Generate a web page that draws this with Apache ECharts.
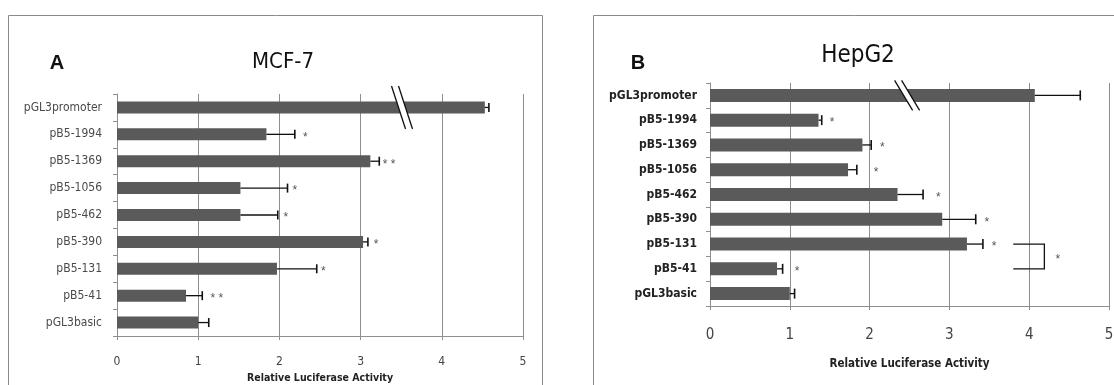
<!DOCTYPE html>
<html>
<head>
<meta charset="utf-8">
<script src="https://cdn.jsdelivr.net/npm/echarts@6/dist/echarts.min.js"></script>
<style>
html,body{margin:0;padding:0;background:#fff;}
#c{width:1114px;height:385px;}
</style>
</head>
<body>
<div id="c"></div>
<script>
// ---------- data ----------
var categories = ['pGL3promoter','pB5-1994','pB5-1369','pB5-1056','pB5-462','pB5-390','pB5-131','pB5-41','pGL3basic'];
var xTicks = [0, 1, 2, 3, 4, 5];

// Panel A: MCF-7
var mcfValues = [4.53, 1.84, 3.12, 1.52, 1.52, 3.03, 1.97, 0.85, 1.00];
var mcfErrTop = [4.58, 2.19, 3.23, 2.10, 1.98, 3.09, 2.46, 1.05, 1.13];
var mcfStars  = ['', '*', '**', '*', '*', '*', '*', '**', ''];
var mcfStarX  = [null, 2.32, 3.35, 2.19, 2.08, 3.19, 2.54, 1.23, null];
var mcfBreak  = [3.51];

// Panel B: HepG2
var hepValues = [4.07, 1.36, 1.91, 1.73, 2.35, 2.91, 3.22, 0.84, 1.00];
var hepErrTop = [4.64, 1.40, 2.02, 1.84, 2.67, 3.33, 3.42, 0.91, 1.06];
var hepStars  = ['', '*', '*', '*', '*', '*', '*', '*', ''];
var hepStarX  = [null, 1.53, 2.16, 2.08, 2.86, 3.47, 3.56, 1.09, null];
var hepBreak  = [2.47];
// bracket between pB5-131 and pB5-41
var hepBracketX = [3.80, 4.19];
var hepBracketRows = [6, 7];
var hepBracketStarX = [4.36];

// ---------- styles ----------
var BAR = '#5a5a5a';
var GRID = '#8e8e8e';
var NARROW = '"DejaVu Sans Condensed","Liberation Sans",sans-serif';

function errSeries(xi, yi, vals, tops, stars, starX, cap) {
  return {
    type: 'custom', xAxisIndex: xi, yAxisIndex: yi, z: 5,
    encode: {x: [1, 2], y: 0},
    data: vals.map(function (v, i) { return [i, v, tops[i]]; }),
    renderItem: function (params, api) {
      var i = api.value(0);
      var a = api.coord([api.value(1), i]);
      var b = api.coord([api.value(2), i]);
      var ch = [
        {type: 'line', shape: {x1: a[0], y1: a[1], x2: b[0], y2: b[1]}, style: {stroke: '#111', lineWidth: 1.3}},
        {type: 'line', shape: {x1: b[0], y1: b[1] - cap / 2, x2: b[0], y2: b[1] + cap / 2}, style: {stroke: '#111', lineWidth: 1.6}}
      ];
      var idx = params.dataIndex;
      if (stars[idx]) {
        var s = api.coord([starX[idx], i]);
        ch.push({type: 'text', x: s[0], y: s[1] + 3,
          style: {text: stars[idx].split('').join(' '), fill: '#555', font: '12px "Liberation Sans"', align: 'center', verticalAlign: 'middle'}});
      }
      return {type: 'group', children: ch};
    }
  };
}

function breakSeries(xi, yi, bval, h, s, g) {
  return {
    type: 'custom', xAxisIndex: xi, yAxisIndex: yi, z: 6,
    encode: {x: 0, y: 1},
    data: bval.map(function (v) { return [v, 0]; }),
    renderItem: function (params, api) {
      var c = api.coord([api.value(0), api.value(1)]);
      var cx = c[0], cy = c[1];
      return {type: 'group', children: [
        {type: 'polygon', shape: {points: [[cx - s - g, cy - h], [cx - s + g, cy - h], [cx + s + g, cy + h], [cx + s - g, cy + h]]},
          style: {fill: '#fff'}},
        {type: 'line', shape: {x1: cx - s - g, y1: cy - h, x2: cx + s - g, y2: cy + h}, style: {stroke: '#111', lineWidth: 1.3}},
        {type: 'line', shape: {x1: cx - s + g, y1: cy - h, x2: cx + s + g, y2: cy + h}, style: {stroke: '#111', lineWidth: 1.3}}
      ]};
    }
  };
}

function yAxisCfg(gi, font, weight, color, margin) {
  return {
    type: 'category', gridIndex: gi, data: categories, inverse: true,
    axisLine: {lineStyle: {color: GRID}},
    axisTick: {show: true, length: 4, lineStyle: {color: GRID}},
    axisLabel: {fontFamily: NARROW, fontSize: font, fontWeight: weight, color: color, margin: margin},
    splitLine: {show: false}
  };
}

function xAxisCfg(gi, font, margin, gap, nameFont) {
  return {
    type: 'value', gridIndex: gi, min: xTicks[0], max: xTicks[xTicks.length - 1], interval: 1,
    axisLine: {show: true, lineStyle: {color: GRID}},
    axisTick: {show: true, length: 4, lineStyle: {color: GRID}},
    axisLabel: {fontFamily: NARROW, fontSize: font, color: '#444', margin: margin},
    splitLine: {show: true, lineStyle: {color: GRID, width: 1}},
    name: 'Relative Luciferase Activity', nameLocation: 'middle', nameGap: gap,
    nameTextStyle: {fontFamily: NARROW, fontWeight: 'bold', fontSize: nameFont, color: '#222'}
  };
}

var chart = echarts.init(document.getElementById('c'), null, {renderer: 'canvas'});
chart.setOption({
  animation: false,
  backgroundColor: '#fff',
  grid: [
    {left: 117, top: 94, width: 406, height: 242, containLabel: false, outerBoundsMode: 'none'},
    {left: 710, top: 83, width: 399, height: 223, containLabel: false, outerBoundsMode: 'none'}
  ],
  xAxis: [xAxisCfg(0, 12, 20, 36, 10.5), xAxisCfg(1, 15, 22, 52, 11.5)],
  yAxis: [yAxisCfg(0, 12, 'normal', '#4a4a4a', 15), yAxisCfg(1, 12, 'bold', '#222', 13)],
  series: [
    {type: 'bar', xAxisIndex: 0, yAxisIndex: 0, data: mcfValues, barWidth: 12, itemStyle: {color: BAR}, z: 3},
    {type: 'bar', xAxisIndex: 1, yAxisIndex: 1, data: hepValues, barWidth: 13, itemStyle: {color: BAR}, z: 3},
    errSeries(0, 0, mcfValues, mcfErrTop, mcfStars, mcfStarX, 9),
    errSeries(1, 1, hepValues, hepErrTop, hepStars, hepStarX, 10),
    breakSeries(0, 0, mcfBreak, 21.5, 7, 3.5),
    breakSeries(1, 1, hepBreak, 15, 9, 3.5),
    {
      type: 'custom', xAxisIndex: 1, yAxisIndex: 1, z: 5,
      encode: {x: [0, 1], y: 2},
      data: [[hepBracketX[0], hepBracketX[1], hepBracketRows[0], hepBracketRows[1], hepBracketStarX[0]]],
      renderItem: function (params, api) {
        var p1 = api.coord([api.value(0), api.value(2)]);
        var p2 = api.coord([api.value(1), api.value(2)]);
        var p3 = api.coord([api.value(1), api.value(3)]);
        var p4 = api.coord([api.value(0), api.value(3)]);
        var st = api.coord([api.value(4), api.value(2)]);
        return {type: 'group', children: [
          {type: 'polyline', shape: {points: [p1, p2, p3, p4]}, style: {stroke: '#111', lineWidth: 1.3, fill: null}},
          {type: 'text', x: st[0], y: (p2[1] + p3[1]) / 2 + 3,
            style: {text: '*', fill: '#555', font: '12px "Liberation Sans"', align: 'center', verticalAlign: 'middle'}}
        ]};
      }
    }
  ],
  graphic: [
    {type: 'rect', shape: {x: 8.5, y: 15.5, width: 534, height: 400}, style: {fill: null, stroke: '#8a8a8a', lineWidth: 1}, z: -1},
    {type: 'rect', shape: {x: 593.5, y: 15.5, width: 600, height: 400}, style: {fill: null, stroke: '#8a8a8a', lineWidth: 1}, z: -1},
    {type: 'text', x: 283, y: 62, style: {text: 'MCF-7', font: '22px ' + NARROW, fill: '#111', align: 'center', verticalAlign: 'middle'}},
    {type: 'text', x: 57, y: 63, style: {text: 'A', font: 'bold 20px "Liberation Sans"', fill: '#111', align: 'center', verticalAlign: 'middle'}},
    {type: 'text', x: 858, y: 56, style: {text: 'HepG2', font: '24px ' + NARROW, fill: '#111', align: 'center', verticalAlign: 'middle'}},
    {type: 'text', x: 638, y: 63, style: {text: 'B', font: 'bold 20px "Liberation Sans"', fill: '#111', align: 'center', verticalAlign: 'middle'}}
  ]
});
</script>
</body>
</html>
